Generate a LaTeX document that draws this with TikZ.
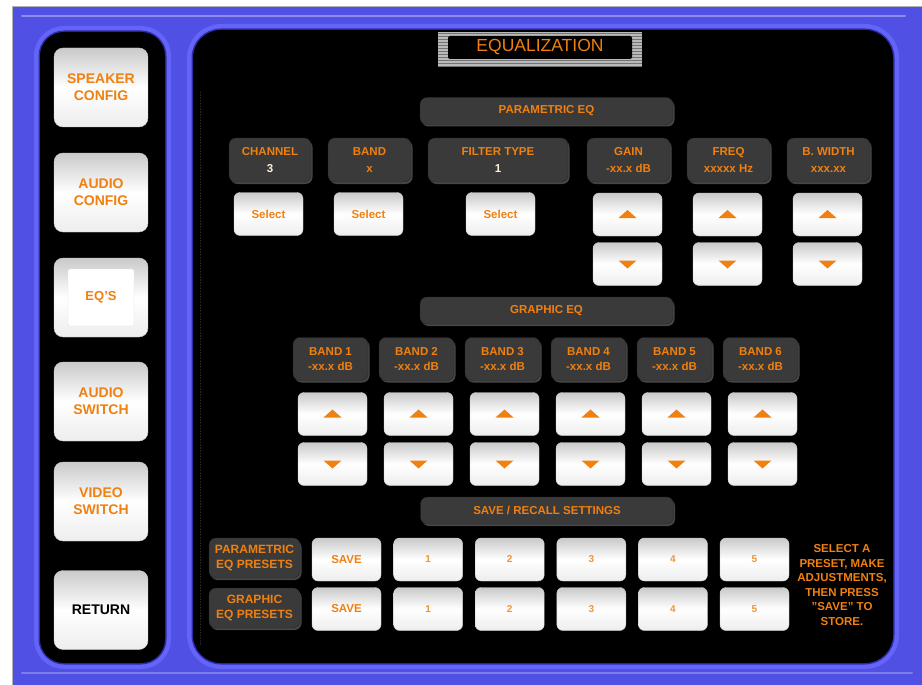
\documentclass[tikz,border=0pt]{standalone}
\usepackage{fontspec}
\setmainfont{Liberation Sans}
\usetikzlibrary{shadows}
\usetikzlibrary{patterns}

\definecolor{eqorange}{RGB}{240,128,16}
\definecolor{frameblue}{RGB}{80,80,228}
\definecolor{glowblue}{RGB}{100,100,248}
\definecolor{deepblue}{RGB}{44,44,170}
\definecolor{boxgray}{RGB}{58,58,58}
\definecolor{valwhite}{RGB}{255,240,215}

\tikzset{
  btn/.style={rounded corners=6pt, draw=gray!40, top color=gray!42!white, bottom color=gray!14!white, middle color=white,
    minimum width=69pt, minimum height=43pt, inner sep=0pt, text=eqorange, font=\fontsize{11.5}{13}\selectfont\bfseries},
  navbtn/.style={btn, minimum width=94pt, minimum height=79pt, rounded corners=9pt, align=center, font=\fontsize{14}{17}\selectfont\bfseries},
  numbtn/.style={btn, text=eqorange!85!white, font=\fontsize{10}{12}\selectfont\bfseries},
  upbtn/.style={btn, path picture={\fill[eqorange, sharp corners] ([shift={(-9pt,-3.5pt)}]path picture bounding box.center)
    -- ([shift={(9pt,-3.5pt)}]path picture bounding box.center) -- ([shift={(0pt,4.5pt)}]path picture bounding box.center) -- cycle;}},
  dnbtn/.style={btn, path picture={\fill[eqorange, sharp corners] ([shift={(-9pt,3.5pt)}]path picture bounding box.center)
    -- ([shift={(9pt,3.5pt)}]path picture bounding box.center) -- ([shift={(0pt,-4.5pt)}]path picture bounding box.center) -- cycle;}},
  dispbox/.style={rounded corners=7pt, fill=boxgray, draw=gray!30!black,
    drop shadow={shadow xshift=1.5pt, shadow yshift=-2pt, fill=gray!55!black, opacity=1},
    inner sep=0pt, align=center, text=eqorange, font=\fontsize{11.5}{16.5}\selectfont\bfseries},
  valbox/.style={dispbox, minimum width=83pt, minimum height=44pt},
  bandbox/.style={dispbox, minimum width=75pt, minimum height=43pt, font=\fontsize{11.5}{14.5}\selectfont\bfseries},
  barbox/.style={dispbox, minimum width=253pt, minimum height=27pt},
  presetbox/.style={dispbox, minimum width=91pt, minimum height=40pt, font=\fontsize{12}{15}\selectfont\bfseries}
}

\begin{document}
\begin{tikzpicture}[x=1pt, y=-1pt, line cap=round, line join=round]
\useasboundingbox (0,0) rectangle (922,685);
\fill[white] (0,0) rectangle (922,685);

% blue frame
\fill[frameblue] (12,6) rectangle (922,685);
\draw[gray!60] (12,685) -- (12,6) -- (922,6);
\draw[white!35!frameblue, line width=2pt] (22,16) -- (905,16);
\draw[white!25!frameblue, line width=2pt] (22,673) -- (912,673);

\draw[glowblue, line width=12pt, rounded corners=24pt] (40,32) rectangle (165,663);
\draw[glowblue, line width=12pt, rounded corners=28pt] (193,30) rectangle (893,663);
\draw[deepblue, line width=3pt, rounded corners=24pt] (40,32) rectangle (165,663);
\draw[deepblue, line width=3pt, rounded corners=28pt] (193,30) rectangle (893,663);
\fill[black, rounded corners=24pt] (40,32) rectangle (165,663);
\fill[black, rounded corners=28pt] (193,30) rectangle (893,663);
\draw[gray!35!black, dotted, line width=0.8pt] (200,92) -- (200,645);

% menu
\node[navbtn] (spk) at (101,87.5) {SPEAKER\\CONFIG};
\node[navbtn] (audcfg) at (101,192.5) {AUDIO\\CONFIG};
\node[navbtn] (eqsbase) at (101,297.5) {};
\node[fill=white, draw=gray!25, rounded corners=2pt, minimum width=66pt, minimum height=57pt, text=eqorange,
  font=\fontsize{13}{15}\selectfont\bfseries] (eqs) at (eqsbase) {EQ'S};
\node[navbtn] (audsw) at (101,401.5) {AUDIO\\SWITCH};
\node[navbtn] (vidsw) at (101,501.5) {VIDEO\\SWITCH};
\node[navbtn, text=black] (ret) at (101,610) {RETURN};

% title
\fill[gray!55] (438,32) rectangle (642,67);
\fill[pattern=horizontal lines, pattern color=black!55] (438,32) rectangle (642,67);
\node[fill=black, rounded corners=2pt, minimum width=184pt, minimum height=23pt, text=eqorange,
  font=\fontsize{17.5}{20}\selectfont] (eqtitle) at (540,47.5) {EQUALIZATION};

% parametric
\node[barbox] (parbar) at (546.5,111) {PARAMETRIC EQ};
\node[valbox, minimum width=82pt] (chan) at (270,160) {CHANNEL\\\textcolor{valwhite}{3}};
\node[valbox] (band) at (369.5,160) {BAND\\x};
\node[valbox, minimum width=140pt] (ftype) at (498,160) {FILTER TYPE\\\textcolor{valwhite}{1}};
\node[valbox] (gain) at (628.5,160) {GAIN\\-xx.x dB};
\node[valbox] (freq) at (728.5,160) {FREQ\\xxxxx Hz};
\node[valbox] (bwidth) at (828.5,160) {B. WIDTH\\xxx.xx};

\node[btn] (selchan) at (268.5,214) {Select};
\node[btn] (selband) at (368.5,214) {Select};
\node[btn] (selftype) at (500.5,214) {Select};
\node[upbtn] (gainup) at (627.5,214.5) {};
\node[dnbtn] (gaindn) at (627.5,264) {};
\node[upbtn] (frequp) at (727.5,214.5) {};
\node[dnbtn] (freqdn) at (727.5,264) {};
\node[upbtn] (bwup) at (827.5,214.5) {};
\node[dnbtn] (bwdn) at (827.5,264) {};

% graphic
\node[barbox] (grbar) at (546.5,310.5) {GRAPHIC EQ};
\node[bandbox] (b1) at (330.5,359) {BAND 1\\-xx.x dB};
\node[bandbox] (b2) at (416.5,359) {BAND 2\\-xx.x dB};
\node[bandbox] (b3) at (502.5,359) {BAND 3\\-xx.x dB};
\node[bandbox] (b4) at (588.5,359) {BAND 4\\-xx.x dB};
\node[bandbox] (b5) at (674.5,359) {BAND 5\\-xx.x dB};
\node[bandbox] (b6) at (760.5,359) {BAND 6\\-xx.x dB};

\node[upbtn] (bu1) at (332.5,414) {};
\node[upbtn] (bu2) at (418.5,414) {};
\node[upbtn] (bu3) at (504.5,414) {};
\node[upbtn] (bu4) at (590.5,414) {};
\node[upbtn] (bu5) at (676.5,414) {};
\node[upbtn] (bu6) at (762.5,414) {};
\node[dnbtn] (bd1) at (332.5,464) {};
\node[dnbtn] (bd2) at (418.5,464) {};
\node[dnbtn] (bd3) at (504.5,464) {};
\node[dnbtn] (bd4) at (590.5,464) {};
\node[dnbtn] (bd5) at (676.5,464) {};
\node[dnbtn] (bd6) at (762.5,464) {};

% presets
\node[barbox] (savebar) at (547,510.5) {SAVE / RECALL SETTINGS};
\node[presetbox] (plabel) at (254.5,558) {PARAMETRIC\\EQ PRESETS};
\node[presetbox] (glabel) at (254.5,608) {GRAPHIC\\EQ PRESETS};

\node[btn] (psave) at (346.5,559.5) {SAVE};
\node[numbtn] (p1) at (428.1,559.5) {1};
\node[numbtn] (p2) at (509.7,559.5) {2};
\node[numbtn] (p3) at (591.3,559.5) {3};
\node[numbtn] (p4) at (672.9,559.5) {4};
\node[numbtn] (p5) at (754.5,559.5) {5};
\node[btn] (gsave) at (346.5,609) {SAVE};
\node[numbtn] (g1) at (428.1,609) {1};
\node[numbtn] (g2) at (509.7,609) {2};
\node[numbtn] (g3) at (591.3,609) {3};
\node[numbtn] (g4) at (672.9,609) {4};
\node[numbtn] (g5) at (754.5,609) {5};

\node[align=center, text=eqorange, font=\fontsize{11.5}{14.6}\selectfont\bfseries] (note) at (842,585)
  {SELECT A\\PRESET, MAKE\\ADJUSTMENTS,\\THEN PRESS\\"SAVE" TO\\STORE.};
\end{tikzpicture}
\end{document}
